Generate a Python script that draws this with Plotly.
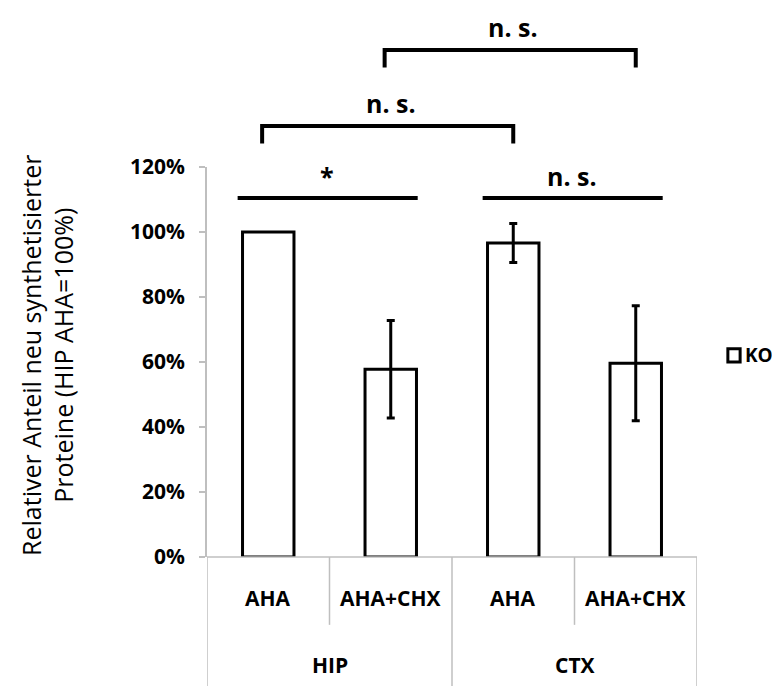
import numpy as np
import plotly.graph_objects as go

# ---- data ----
groups = ["HIP", "HIP", "CTX", "CTX"]
treatments = ["AHA", "AHA+CHX", "AHA", "AHA+CHX"]
values = [1.00, 0.578, 0.966, 0.596]
errors = [None, 0.150, 0.060, 0.177]   # HIP AHA is the reference (no error bar)
series_name = "KO"
y_ticks = [0, 0.2, 0.4, 0.6, 0.8, 1.0, 1.2]
y_tick_labels = ["0%", "20%", "40%", "60%", "80%", "100%", "120%"]
group_names = ["HIP", "CTX"]
# significance annotations: (from index, to index, label)
sig_lines = [(0, 1, "*"), (2, 3, "n. s.")]
sig_brackets = [(0, 2, "n. s."), (1, 3, "n. s.")]

cats = [f"{g} {t}" for g, t in zip(groups, treatments)]
FONT = "Open Sans"
GRAY = "#BFBFBF"

err_arr = np.array([np.nan if e is None else e for e in errors], dtype=float)

fig = go.Figure()
fig.add_trace(go.Bar(
    x=cats, y=np.array(values, dtype=float), name=series_name,
    marker=dict(color="white", line=dict(color="black", width=3)),
    width=0.42,
    error_y=dict(type="data", array=err_arr, visible=True, color="black",
                 thickness=3, width=4),
    showlegend=False,
))

shapes = []
annotations = []

# category table below axis
shapes.append(dict(type="line", xref="x", yref="paper", x0=-0.5, x1=3.5, y0=0, y1=0,
                   line=dict(color=GRAY, width=1.5)))
n = len(cats)
row1_bottom = -0.174
table_bottom = -0.34
for i in range(n + 1):
    xb = i - 0.5
    is_group_edge = (i == 0 or i == n or groups[i - 1] != groups[i])
    shapes.append(dict(type="line", xref="x", yref="paper", x0=xb, x1=xb,
                       y0=0, y1=table_bottom if is_group_edge else row1_bottom,
                       line=dict(color=GRAY, width=1.5)))
for i, t in enumerate(treatments):
    annotations.append(dict(x=cats[i], y=-0.105, xref="x", yref="paper", text=t,
                            yanchor="middle", showarrow=False,
                            font=dict(family=FONT, size=21, color="black", weight="bold")))
for g in group_names:
    idx = [i for i, gg in enumerate(groups) if gg == g]
    xc = (idx[0] + idx[-1]) / 2
    annotations.append(dict(x=xc, y=-0.277, xref="x", yref="paper", text=g,
                            yanchor="middle", showarrow=False,
                            font=dict(family=FONT, size=21, color="black", weight="bold")))

# significance lines (horizontal)
for a, b, lab in sig_lines:
    shapes.append(dict(type="line", xref="x", yref="y", x0=a - 0.25, x1=b + 0.22,
                       y0=1.105, y1=1.105, line=dict(color="black", width=4)))
    annotations.append(dict(x=(a + b) / 2 - 0.02, y=1.105, xref="x", yref="y", text=lab,
                            yanchor="bottom", yshift=3, showarrow=False,
                            font=dict(family=FONT, size=25, color="black", weight="bold")))

# brackets above plot
bracket_levels = [1.105, 1.30]
for (a, b, lab), lev in zip(sig_brackets, bracket_levels):
    shapes.append(dict(type="path", xref="x", yref="paper",
                       path=f"M {a-0.05},{lev-0.045} L {a-0.05},{lev} L {b},{lev} L {b},{lev-0.045}",
                       line=dict(color="black", width=4)))
    annotations.append(dict(x=(a + b) / 2, y=lev, xref="x", yref="paper", text=lab,
                            yanchor="bottom", yshift=4, showarrow=False,
                            font=dict(family=FONT, size=25, color="black", weight="bold")))

# legend (square swatch + label)
shapes.append(dict(type="rect", xref="paper", yref="paper", x0=1.063, x1=1.088,
                   y0=0.50, y1=0.534, fillcolor="white", line=dict(color="black", width=3)))
annotations.append(dict(x=1.094, y=0.518, xref="paper", yref="paper", text=series_name,
                        xanchor="left", yanchor="middle", showarrow=False,
                        font=dict(family=FONT, size=19, color="black", weight="bold")))

# y-axis title
annotations.append(dict(x=-0.397, y=0.518, xref="paper", yref="paper",
                        text="Relativer Anteil neu synthetisierter<br>Proteine (HIP AHA=100%)",
                        textangle=-90, showarrow=False,
                        font=dict(family=FONT, size=25, color="black")))

fig.update_layout(
    width=772, height=678,
    margin=dict(l=199, r=83, t=159, b=129, autoexpand=False),
    paper_bgcolor="white", plot_bgcolor="white",
    showlegend=False,
    xaxis=dict(range=[-0.5, 3.5], showticklabels=False, showgrid=False, zeroline=False,
               showline=False, ticks=""),
    yaxis=dict(range=[0, 1.2], tickvals=y_ticks, ticktext=y_tick_labels,
               showgrid=False, zeroline=False, showline=True, linecolor=GRAY, linewidth=1.5,
               ticks="outside", ticklen=6, tickcolor=GRAY, tickwidth=1.5,
               ticklabelstandoff=10,
               tickfont=dict(family=FONT, size=21, color="black", weight="bold")),
    shapes=shapes, annotations=annotations,
)

fig.write_html("out.html")
